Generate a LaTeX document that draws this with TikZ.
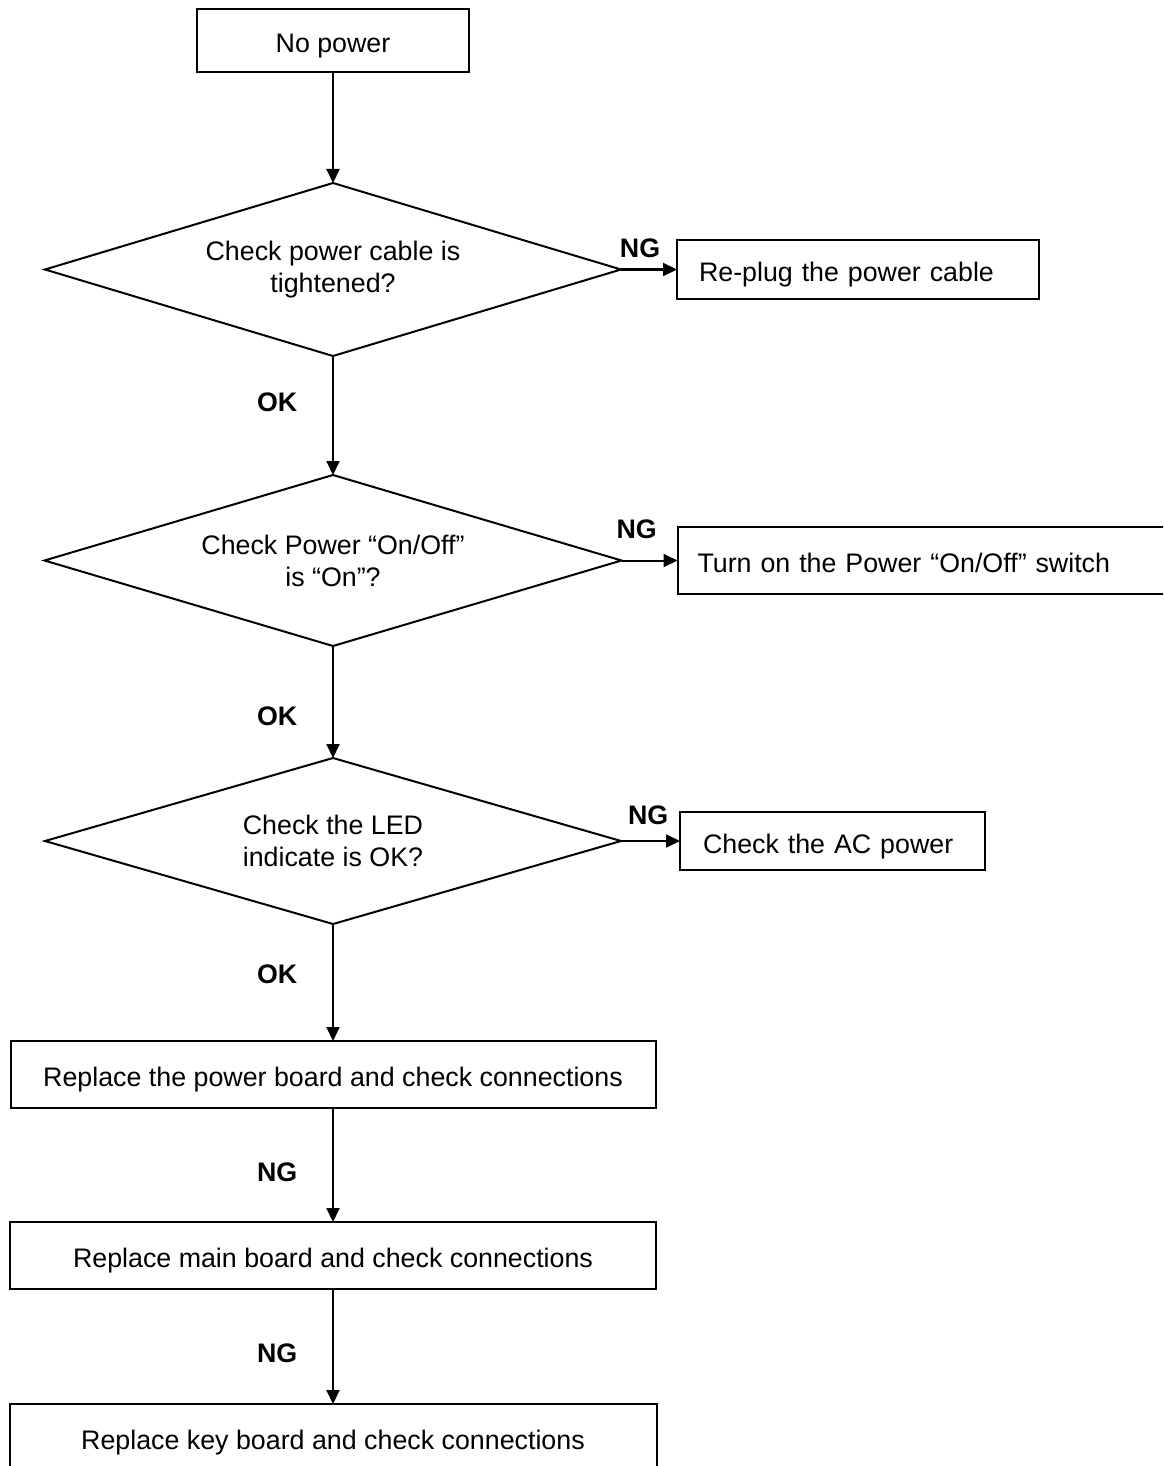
\documentclass[tikz,border=0pt]{standalone}
\usepackage{fontspec}
\setmainfont{Liberation Sans}
\usetikzlibrary{arrows.meta,positioning,shapes.geometric}

\begin{document}
\begin{tikzpicture}[>={Triangle[length=7pt,width=6.5pt]},line width=1pt,font=\fontsize{13.4}{16}\selectfont,
  box/.style={draw,outer sep=0pt,align=center,minimum height=33.5pt,text height=12pt,text depth=0pt},
  ngbox/.style={draw,outer sep=0pt,align=left,minimum height=29.5pt,inner xsep=11pt,text height=12pt,text depth=0pt},
  check/.style={draw,diamond,aspect=3.3,outer sep=0pt,inner sep=0pt,align=center,minimum width=288pt},
  arr/.style={->},
  tag/.style={font=\fontsize{13.4}{16}\selectfont\bfseries}]
\useasboundingbox (0,0) rectangle (581.5pt,-733pt);
\clip (0,0) rectangle (581.5pt,-733pt);
\node[box,minimum width=136pt,minimum height=31.5pt] (nopower) at (166.5pt,-20.25pt) {No power};
\node[check,minimum height=86.5pt,below=55.5pt of nopower] (cable) {Check power cable is\\tightened?};
\node[ngbox,text width=159pt,right=28pt of cable] (replug) {Re-plug the power cable};
\node[check,minimum height=85.5pt,minimum width=288.5pt,below=59.5pt of cable] (onoff) {Check Power “On/Off”\\is “On”?};
\node[ngbox,text width=260pt,minimum height=33.5pt,inner xsep=10pt,right=28pt of onoff] (switch) {Turn on the Power “On/Off” switch};
\node[check,minimum height=83pt,below=56pt of onoff] (led) {Check the LED\\indicate is OK?};
\node[ngbox,text width=129.5pt,minimum height=29pt,inner xsep=11.5pt,right=29.5pt of led] (acpower) {Check the AC power};
\node[box,minimum width=322.5pt,below=58.5pt of led] (powerboard) {Replace the power board and check connections};
\node[box,minimum width=323pt,below=57pt of powerboard] (mainboard) {Replace main board and check connections};
\node[box,minimum width=323.5pt,below=57.5pt of mainboard] (keyboard) {Replace key board and check connections};
\draw[arr](nopower)--(cable);
\draw[arr](cable)--node[tag,above=2pt,pos=0.34]{NG}(replug);
\draw[arr](cable)--node[tag,left=14pt,pos=0.39]{OK}(onoff);
\draw[arr](onoff)--node[tag,above=7pt,pos=0.27]{NG}(switch);
\draw[arr](onoff)--node[tag,left=14pt,pos=0.625]{OK}(led);
\draw[arr](led)--node[tag,above=4.5pt,pos=0.46]{NG}(acpower);
\draw[arr](led)--node[tag,left=14pt,pos=0.43]{OK}(powerboard);
\draw[arr](powerboard)--node[tag,left=14pt,pos=0.56]{NG}(mainboard);
\draw[arr](mainboard)--node[tag,left=14pt,pos=0.56]{NG}(keyboard);
\end{tikzpicture}
\end{document}
